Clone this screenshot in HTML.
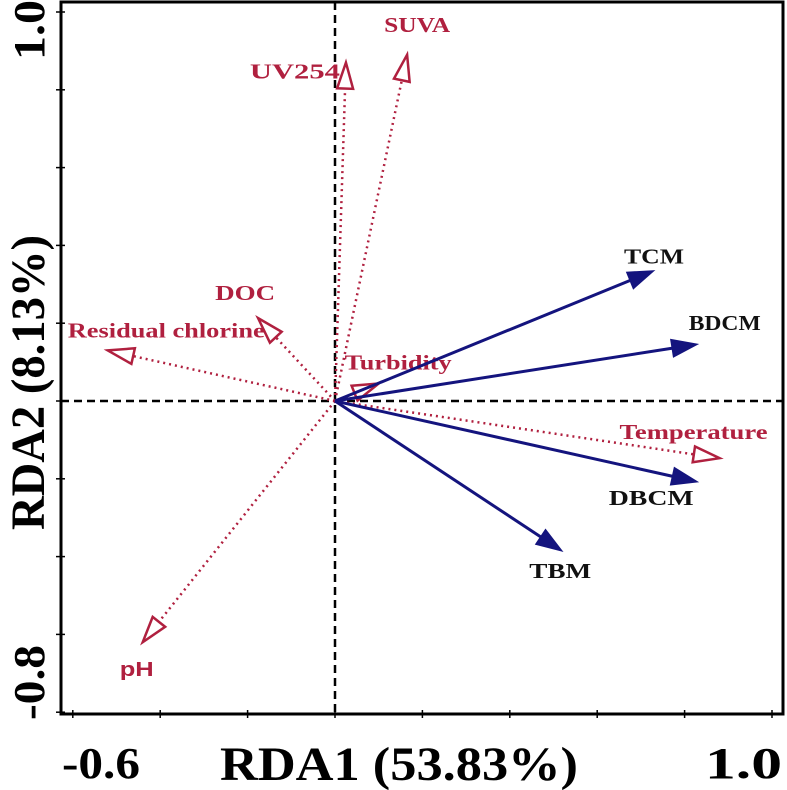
<!DOCTYPE html>
<html><head><meta charset="utf-8"><style>
html,body{margin:0;padding:0;background:#fff;}
svg{display:block;}
</style></head><body>
<svg id="chart" width="787" height="790" viewBox="0 0 787 790" xmlns="http://www.w3.org/2000/svg">
<rect x="0" y="0" width="787" height="790" fill="#fff"/>
<g id="plot"></g>
</svg>
<script>
const envNames = ["UV254","SUVA","DOC","Residual chlorine","Turbidity","Temperature","pH"];
const envX = [0.025, 0.165, -0.176, -0.52, 0.10, 0.88, -0.44];
const envY = [0.87, 0.89, 0.213, 0.13, 0.045, -0.147, -0.62];
const dbpNames = ["TCM","BDCM","DBCM","TBM"];
const dbpX = [0.73, 0.83, 0.83, 0.52];
const dbpY = [0.335, 0.146, -0.208, -0.386];
const xTicks = [-0.6,-0.4,-0.2,0,0.2,0.4,0.6,0.8,1.0];
const yTicks = [1.0,0.8,0.6,0.4,0.2,0,-0.2,-0.4,-0.6,-0.8];

const NS = "http://www.w3.org/2000/svg";
const g = document.getElementById('plot');
const X0 = 335, Y0 = 401, SX = 437, SY = 389;
const L = 61, R = 783, T = 2, B = 714;
function sx(v){return X0 + v*SX;}
function sy(v){return Y0 - v*SY;}
function el(tag, attrs, parent){
  const e = document.createElementNS(NS, tag);
  for (const k in attrs) e.setAttribute(k, attrs[k]);
  (parent||g).appendChild(e);
  return e;
}
const frame = el('rect',{x:L,y:T,width:R-L,height:B-T,fill:'none',stroke:'#000','stroke-width':3});


const hz = el('line',{x1:L,x2:R,y1:sy(0),y2:sy(0),stroke:'#000','stroke-width':2.5,'stroke-dasharray':'8,5'});


const vz = el('line',{x1:sx(0),x2:sx(0),y1:T,y2:B,stroke:'#000','stroke-width':2.5,'stroke-dasharray':'8,5'});


xTicks.forEach(t=>{
  const l = el('line',{x1:sx(t),x2:sx(t),y1:B-4,y2:B+4,stroke:'#000','stroke-width':1.5});
  
  
});
yTicks.forEach(t=>{
  const l = el('line',{x1:L-5,x2:L+4,y1:sy(t),y2:sy(t),stroke:'#000','stroke-width':1.5});
  
  
});
function txt(s, x, y, attrs, name){
  const t = el('text', Object.assign({x:x,y:y,'font-family':'"Liberation Serif", serif','font-weight':'bold',lengthAdjust:'spacingAndGlyphs'}, attrs));
  t.textContent = s;
  
  
  return t;
}
txt('-0.6', 62, 778, {'font-size':44,textLength:78}, 'x-tick-label-min');
txt('1.0', 705, 778, {'font-size':44,textLength:77}, 'x-tick-label-max');
txt('RDA1 (53.83%)', 220, 780, {'font-size':48,textLength:358}, 'x-axis-title');
txt('1.0', 44, 60, {'font-size':44,textLength:60,transform:'rotate(-90 44 60)'}, 'y-tick-label-max');
txt('-0.8', 44, 720, {'font-size':44,textLength:75,transform:'rotate(-90 44 720)'}, 'y-tick-label-min');
txt('RDA2 (8.13%)', 44, 530, {'font-size':48,textLength:295,transform:'rotate(-90 44 530)'}, 'y-axis-title');

const red = '#b0203f';
// label offsets relative to arrow tip: [dx, dy(baseline), width]
const envLabelPos = [[-96,16,90],[-23,-23,66],[-43,-18,60],[-40,-13,197],[-34,-14,107],[-100,-19,148],[-23,34,34]];
envNames.forEach((n,i)=>{
  const x2 = sx(envX[i]), y2 = sy(envY[i]);
  const dx = x2-X0, dy = y2-Y0, len = Math.hypot(dx,dy), ux = dx/len, uy = dy/len;
  const hl = 26, hw = 8;
  const bx = x2-ux*hl, by = y2-uy*hl;
  const line = el('line',{x1:X0,y1:Y0,x2:bx,y2:by,stroke:red,'stroke-width':2.5,'stroke-dasharray':'2,4'});
  
  
  const tri = el('polygon',{points:`${x2},${y2} ${bx-uy*hw},${by+ux*hw} ${bx+uy*hw},${by-ux*hw}`,fill:'none',stroke:red,'stroke-width':2.5});
  
  
  const p = envLabelPos[i];
  const t = el('text',{x:x2+p[0],y:y2+p[1],textLength:p[2],lengthAdjust:'spacingAndGlyphs',fill:red,'font-size':n==='pH'?20:21,'font-weight':'bold','font-family':n==='pH'?'"Liberation Sans", sans-serif':'"Liberation Serif", serif'});
  t.textContent = n;
  
  
});
const blue = '#14147e';
const dbpLabelPos = [[-30,-7,60],[-9,-14,72],[-89,23,85],[-33,27,62]];
dbpNames.forEach((n,i)=>{
  const x2 = sx(dbpX[i]), y2 = sy(dbpY[i]);
  const dx = x2-X0, dy = y2-Y0, len = Math.hypot(dx,dy), ux = dx/len, uy = dy/len;
  const hl = 26, hw = 9;
  const bx = x2-ux*hl, by = y2-uy*hl;
  const line = el('line',{x1:X0,y1:Y0,x2:bx+ux*4,y2:by+uy*4,stroke:blue,'stroke-width':3});
  
  
  const tri = el('polygon',{points:`${x2},${y2} ${bx-uy*hw},${by+ux*hw} ${bx+uy*hw},${by-ux*hw}`,fill:blue,stroke:blue,'stroke-width':1});
  
  
  const p = dbpLabelPos[i];
  const t = el('text',{x:x2+p[0],y:y2+p[1],textLength:p[2],lengthAdjust:'spacingAndGlyphs',fill:'#111','font-size':21,'font-weight':'bold','font-family':'"Liberation Serif", serif'});
  t.textContent = n;
  
  
});
</script>
</body></html>
